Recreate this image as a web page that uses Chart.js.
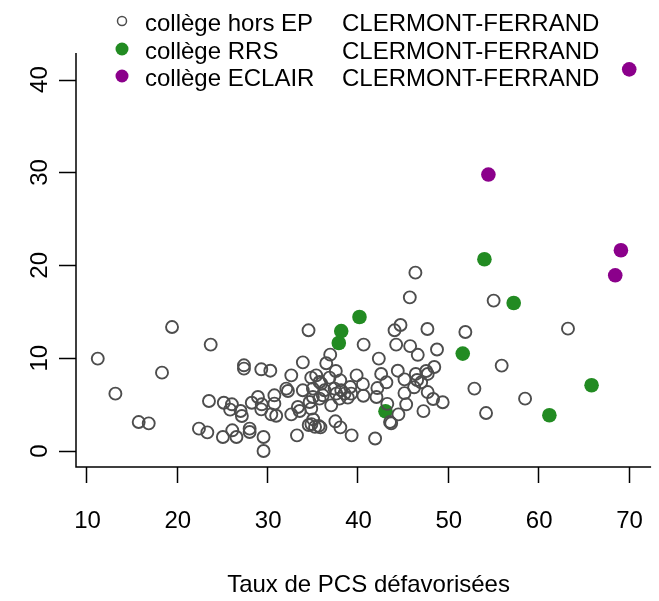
<!DOCTYPE html>
<html>
<head>
<meta charset="utf-8">
<script src="https://cdn.jsdelivr.net/npm/chart.js@4"></script>
<style>
  body { margin: 0; background: #fff; }
  canvas { display: block; }
</style>
</head>
<body>
<canvas id="c" width="659" height="601"></canvas>
<script>
'use strict'

// collèges hors EP (open circles)
var horsEP = [
  [11.25, 9.95], [13.2, 6.18], [15.78, 3.12], [16.89, 2.98], [18.36, 8.44],
  [19.47, 13.35], [22.45, 2.41], [23.38, 2.01], [23.56, 5.39], [23.75, 11.46],
  [25.1, 1.51], [25.2, 5.2], [25.9, 4.46], [26.1, 5.03], [26.14, 2.23],
  [26.6, 1.51], [27.06, 4.31], [27.2, 3.77], [27.43, 9.23], [27.43, 8.87],
  [28.06, 2.41], [28.06, 2.05], [28.3, 5.2], [28.98, 5.82], [29.35, 8.8],
  [29.4, 5.03], [29.35, 4.49], [29.6, 1.51], [29.6, 0.0],
  [30.35, 8.65], [30.8, 6.0], [30.8, 5.1], [30.46, 3.95], [31.0, 3.8],
  [32.67, 8.15], [32.12, 6.72], [32.3, 6.46], [32.67, 3.95], [33.3, 1.69],
  [33.4, 4.74], [33.6, 4.31], [33.95, 9.55], [33.95, 6.54], [34.58, 13.0],
  [34.7, 5.28], [34.88, 4.57], [34.88, 7.9], [35.43, 8.15], [35.06, 6.72],
  [35.06, 5.82], [35.8, 5.64], [35.8, 7.43], [35.99, 7.26], [36.35, 6.54],
  [36.16, 6.0], [36.54, 9.45], [36.98, 10.38], [36.9, 7.9], [37.6, 8.62],
  [37.46, 6.72], [37.65, 6.18], [37.09, 4.92], [38.0, 5.64], [38.09, 7.61],
  [38.2, 6.54], [38.56, 6.18], [38.93, 5.75], [39.3, 6.18], [39.2, 6.89],
  [35.1, 3.4], [34.6, 2.8], [34.9, 2.9], [35.3, 2.6], [35.7, 2.7], [35.9, 2.55],
  [37.55, 3.2], [38.1, 2.55], [39.35, 1.69],
  [40.68, 11.46], [39.9, 8.15], [40.6, 7.2], [40.65, 5.95], [42.1, 5.82],
  [42.2, 6.78], [42.36, 9.95], [42.62, 8.3], [43.2, 7.4], [43.3, 5.08],
  [44.46, 8.65], [44.28, 11.46], [44.76, 13.57], [44.1, 13.0], [45.83, 11.3],
  [46.67, 10.36], [45.79, 16.55], [46.41, 19.21], [47.74, 13.14], [48.8, 10.93],
  [45.2, 7.72], [46.45, 8.3], [46.6, 7.65], [47.05, 7.4], [47.6, 8.62],
  [48.5, 9.05], [47.77, 8.3], [46.27, 6.86], [45.2, 6.24], [47.77, 6.35],
  [48.37, 5.6], [49.43, 5.25], [45.39, 5.03], [47.3, 4.3], [44.53, 3.95],
  [43.6, 3.12], [43.73, 2.98], [41.95, 1.35],
  [51.94, 12.82], [55.07, 16.2], [63.3, 13.18], [55.96, 9.2], [52.94, 6.72],
  [58.55, 5.64], [54.23, 4.09]
];

// collèges RRS (green)
var rrs = [
  [37.93, 11.63], [38.2, 12.92], [40.22, 14.43], [43.1, 4.28], [51.65, 10.49],
  [54.05, 20.65], [57.29, 15.94], [61.24, 3.85], [65.91, 7.08]
];

// collèges ECLAIR (purple)
var eclair = [
  [54.49, 29.77], [69.16, 21.62], [68.53, 18.92], [70.08, 41.1]
];

var legendLabels = ['collège hors EP', 'collège RRS', 'collège ECLAIR'];
var city = 'CLERMONT-FERRAND';
var xTicks = [10, 20, 30, 40, 50, 60, 70];
var yTicks = [0, 10, 20, 30, 40];
var xTitle = 'Taux de PCS défavorisées';

var grey = '#4d4d4d';
var green = '#228B22';
var purple = '#8B008B';
var font = '24px "Liberation Sans", Arial, sans-serif';

function pts(arr) {
  return arr.map(function (p) { return { x: p[0], y: p[1] }; });
}

var rAxes = {
  id: 'rAxes',
  afterDraw: function (chart) {
    var ctx = chart.ctx;
    var a = chart.chartArea;
    var xs = chart.scales.x, ys = chart.scales.y;
    ctx.save();
    ctx.strokeStyle = '#000';
    ctx.lineWidth = 1.5;
    ctx.beginPath();
    ctx.moveTo(a.left, a.top);
    ctx.lineTo(a.left, a.bottom);
    ctx.lineTo(a.right, a.bottom);
    xTicks.forEach(function (v) {
      var px = Math.round(xs.getPixelForValue(v)) + 0.5;
      ctx.moveTo(px, a.bottom);
      ctx.lineTo(px, a.bottom + 16);
    });
    yTicks.forEach(function (v) {
      var py = Math.round(ys.getPixelForValue(v)) + 0.5;
      ctx.moveTo(a.left, py);
      ctx.lineTo(a.left - 17, py);
    });
    ctx.stroke();

    ctx.fillStyle = '#000';
    ctx.font = font;
    ctx.textAlign = 'center';
    ctx.textBaseline = 'middle';
    xTicks.forEach(function (v) {
      ctx.fillText(String(v), xs.getPixelForValue(v) + 1, a.bottom + 54);
    });
    yTicks.forEach(function (v) {
      ctx.save();
      ctx.translate(40, ys.getPixelForValue(v));
      ctx.rotate(-Math.PI / 2);
      ctx.fillText(String(v), 0, 0);
      ctx.restore();
    });
    ctx.fillText(xTitle, (a.left + a.right) / 2 + 5, 585);

    // legend
    var rows = [22, 50, 77];
    ctx.textAlign = 'left';
    rows.forEach(function (y, i) {
      ctx.beginPath();
      if (i === 0) {
        ctx.arc(122, y - 1, 4.5, 0, Math.PI * 2);
        ctx.strokeStyle = grey;
        ctx.lineWidth = 1.5;
        ctx.stroke();
      } else {
        ctx.arc(122, y - 1, 6.5, 0, Math.PI * 2);
        ctx.fillStyle = i === 1 ? green : purple;
        ctx.fill();
      }
      ctx.fillStyle = '#000';
      ctx.fillText(legendLabels[i], 145, y + 2);
      ctx.fillText(city, 342, y + 2);
    });
    ctx.restore();
  }
};

new Chart(document.getElementById('c'), {
  type: 'scatter',
  data: {
    datasets: [
      {
        label: legendLabels[0],
        data: pts(horsEP),
        pointRadius: 6,
        borderWidth: 1.9,
        borderColor: grey,
        backgroundColor: 'rgba(0,0,0,0)'
      },
      {
        label: legendLabels[1],
        data: pts(rrs),
        pointRadius: 7.3,
        borderWidth: 0,
        borderColor: green,
        backgroundColor: green
      },
      {
        label: legendLabels[2],
        data: pts(eclair),
        pointRadius: 7.3,
        borderWidth: 0,
        borderColor: purple,
        backgroundColor: purple
      }
    ]
  },
  options: {
    responsive: false,
    animation: false,
    events: [],
    layout: { padding: { left: 76, top: 53, right: 7, bottom: 134 } },
    plugins: { legend: { display: false }, tooltip: { enabled: false } },
    scales: {
      x: { type: 'linear', min: 8.84, max: 72.5, display: false },
      y: { type: 'linear', min: -1.72, max: 42.86, display: false }
    }
  },
  plugins: [rAxes]
});
</script>
</body>
</html>
